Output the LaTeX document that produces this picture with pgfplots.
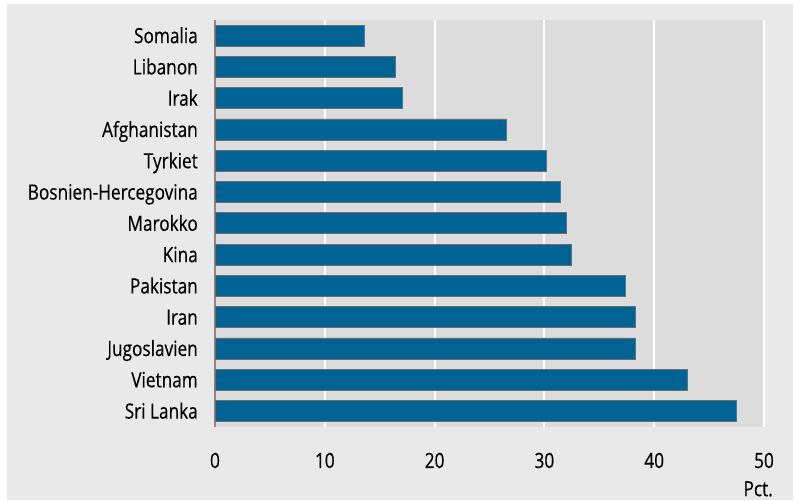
\documentclass[border=0pt]{standalone}
\usepackage{fontspec}
\setmainfont{Open Sans}[FakeStretch=0.82, FakeBold=0.3]
\usepackage{pgfplots}
\pgfplotsset{compat=1.18}
\definecolor{outerbg}{HTML}{E9E9E9}
\definecolor{plotbg}{HTML}{DCDCDC}
\definecolor{barblue}{HTML}{006394}
\definecolor{baredge}{HTML}{6E6E6E}
\definecolor{axisgray}{HTML}{8A8A8A}
\newcommand{\lblfont}{\fontsize{21bp}{23bp}\selectfont}

\begin{document}
\begin{tikzpicture}[x=1bp,y=1bp]
% page and outer panel
\fill[white] (-215,-74.3) rectangle (580,426.7);
\fill[outerbg] (-208,-73.3) rectangle (578,422.7);
\begin{axis}[
  at={(0,0)}, anchor=south west,
  scale only axis, width=549bp, height=406.7bp,
  xbar, bar width=21bp,
  xmin=0, xmax=50, ymin=-0.5, ymax=12.5,
  xtick={0,10,...,50},
  ytick={0,...,12},
  yticklabels={Sri Lanka,Vietnam,Jugoslavien,Iran,Pakistan,Kina,Marokko,Bosnien-Hercegovina,Tyrkiet,Afghanistan,Irak,Libanon,Somalia},
  axis background/.style={fill=plotbg},
  axis y line*=left, axis x line*=bottom,
  x axis line style={draw=none},
  y axis line style={draw=axisgray, line width=1.5bp},
  major tick length=0pt,
  xmajorgrids, grid style={white, line width=2bp},
  /pgf/number format/assume math mode=true,
  y tick label style={anchor=base east, inner sep=0pt, xshift=-17bp, yshift=-7.5bp, font=\lblfont},
  x tick label style={anchor=base, inner sep=0pt, yshift=-41.3bp, font=\lblfont},
]
\addplot[fill=barblue, draw=baredge, line width=0.8bp] coordinates {
  (47.5,0) (43.0,1) (38.3,2) (38.3,3) (37.4,4) (32.5,5) (32.0,6)
  (31.5,7) (30.2,8) (26.5,9) (17.1,10) (16.4,11) (13.6,12)};
\end{axis}
\node[anchor=base east, inner sep=0pt, font=\lblfont] at (558,-69.5) {Pct.};
\pgfresetboundingbox
\path (-215,-74.3) rectangle (580,426.7);
\end{tikzpicture}
\end{document}
